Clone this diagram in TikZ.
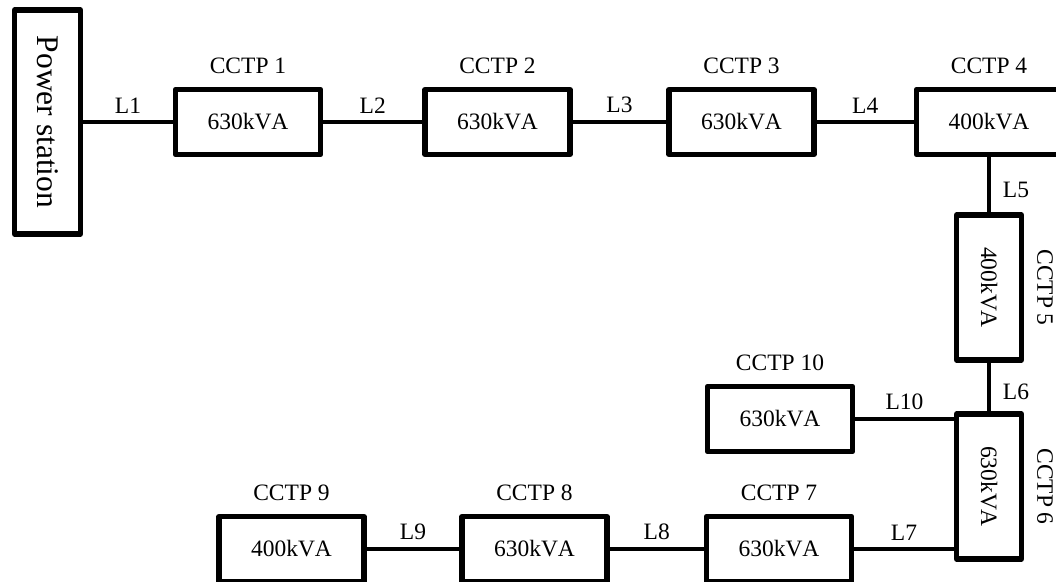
\documentclass[tikz,border=0pt]{standalone}
\usepackage{fontspec}
\setmainfont[Kerning=Off]{Liberation Serif}
\usetikzlibrary{positioning}

\begin{document}
\begin{tikzpicture}[
        x=0.025cm, y=-0.025cm,
        every node/.style={font=\fontsize{16.7}{20}\selectfont},
        box/.style={draw, line width=3.8pt, line join=round, inner sep=2pt,
                minimum width=3.625cm, minimum height=1.625cm},
        tag/.style={inner sep=2pt},
        feeder/.style={line width=2.8pt}
    ]
    \useasboundingbox (0,0) rectangle (1056,581);

    \node[box, rotate=-90, minimum width=5.6cm, minimum height=1.65cm,
        font=\fontsize{22.4}{26}\selectfont] (station) at (47.5,122) {Power station};
    \node[box] (c1) at (248,122) {630kVA};
    \node[box] (c2) at (497.5,122) {630kVA};
    \node[box] (c3) at (741.5,122) {630kVA};
    \node[box] (c4) at (989,122) {400kVA};
    \node[box, rotate=-90] (c5) at (989,287.5) {400kVA};
    \node[box, rotate=-90] (c6) at (989,486.5) {630kVA};
    \node[box] (c10) at (780,419) {630kVA};
    \node[box] (c7) at (779,549) {630kVA};
    \node[box] (c8) at (534.5,549) {630kVA};
    \node[box] (c9) at (291.5,549) {400kVA};

    % names of the transformers
    \node[tag, above=7pt of c1] (t1) {CCTP 1};
    \node[tag, above=7pt of c2] (t2) {CCTP 2};
    \node[tag, above=7pt of c3] (t3) {CCTP 3};
    \node[tag, above=7pt of c4] (t4) {CCTP 4};
    \node[tag, rotate=-90, anchor=south] (t5) at ([xshift=7pt]c5.north) {CCTP 5};
    \node[tag, rotate=-90, anchor=south] (t6) at ([xshift=7pt]c6.north) {CCTP 6};
    \node[tag, above=7pt of c7] (t7) {CCTP 7};
    \node[tag, above=7pt of c8] (t8) {CCTP 8};
    \node[tag, above=7pt of c9] (t9) {CCTP 9};
    \node[tag, above=7pt of c10] (t10) {CCTP 10};

    % feeder lines
    \draw[feeder] (station) -- node[tag, above=3pt] {L1} (c1);
    \draw[feeder] (c1) -- node[tag, above=3pt] {L2} (c2);
    \draw[feeder] (c2) -- node[tag, above=3pt] {L3} (c3);
    \draw[feeder] (c3) -- node[tag, above=3pt] {L4} (c4);
    \draw[feeder] (c4) -- node[tag, pos=0.6, right=6.5pt] {L5} (c5);
    \draw[feeder] (c5) -- node[tag, pos=0.6, right=6.5pt] {L6} (c6);
    \draw[feeder] (c6.south |- c7) -- node[tag, above=3pt] {L7} (c7);
    \draw[feeder] (c7) -- node[tag, above=3pt] {L8} (c8);
    \draw[feeder] (c8) -- node[tag, above=3pt] {L9} (c9);
    \draw[feeder] (c6.south |- c10) -- node[tag, above=3pt] {L10} (c10);
\end{tikzpicture}
\end{document}
